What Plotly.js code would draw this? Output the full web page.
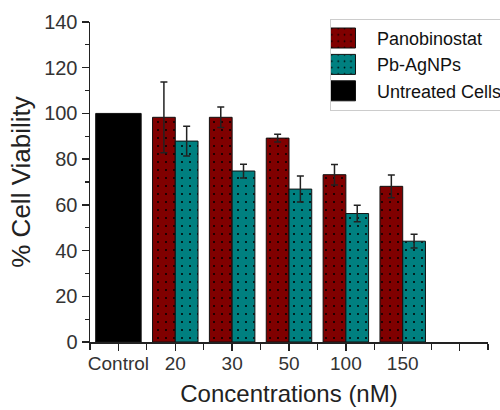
<!DOCTYPE html>
<html><head><meta charset="utf-8">
<script src="https://cdn.plot.ly/plotly-3.0.1.min.js"></script>
<style>html,body{margin:0;padding:0;background:#fff}#chart{width:500px;height:410px}</style>
</head><body><div id="chart"></div>
<script>
// Data
const categories = ['Control', '20', '30', '50', '100', '150', ''];
const controlCategories = ['Control'];
const controlValues = [100];
const treatedCategories = ['20', '30', '50', '100', '150'];
const panobinostat = [98.3, 98.3, 89.2, 73.2, 68.1];
const panobinostatErr = [15.5, 4.5, 1.7, 4.5, 5.0];
const pbAgNPs = [87.9, 74.8, 66.9, 56.2, 44.1];
const pbAgNPsErr = [6.5, 3.0, 5.7, 3.6, 3.0];

const pos = c => categories.indexOf(c);
const dotPattern = (bg) => ({shape: '.', fgcolor: '#000', bgcolor: bg, fillmode: 'replace', size: 8, solidity: 0.05});
const errStyle = (arr) => ({type: 'data', array: arr, visible: true, color: '#222', thickness: 1.5, width: 3.5});

const traces = [
  {type: 'bar', name: 'Panobinostat', x: treatedCategories.map(pos), y: panobinostat,
   offset: -0.4, width: 0.4, error_y: errStyle(panobinostatErr),
   marker: {color: '#800000', line: {color: '#111', width: 1}, pattern: dotPattern('#800000')}},
  {type: 'bar', name: 'Pb-AgNPs', x: treatedCategories.map(pos), y: pbAgNPs,
   offset: 0, width: 0.4, error_y: errStyle(pbAgNPsErr),
   marker: {color: '#008080', line: {color: '#111', width: 1}, pattern: dotPattern('#008080')}},
  {type: 'bar', name: 'Untreated Cells', x: controlCategories.map(pos), y: controlValues,
   offset: -0.4, width: 0.8,
   marker: {color: '#000', line: {color: '#111', width: 1}}}
];

const layout = {
  width: 500, height: 410,
  margin: {l: 90, r: 12, t: 22, b: 68, autoexpand: false},
  paper_bgcolor: '#fff', plot_bgcolor: '#fff',
  barmode: 'overlay',
  showlegend: true,
  font: {family: 'Liberation Sans, Arial, sans-serif', color: '#333'},
  legend: {x: 0.603, y: 1.01, xanchor: 'left', yanchor: 'top', bgcolor: '#fff',
           bordercolor: '#ccc', borderwidth: 1, font: {size: 18, color: '#111'},
           tracegroupgap: 0, itemwidth: 36},
  xaxis: {range: [-0.5, 6.5], tickmode: 'array', tickvals: categories.map((c, i) => i), ticktext: categories,
          showgrid: false, zeroline: false, showline: true, linecolor: '#222', linewidth: 1.5,
          ticks: 'outside', ticklen: 7, tickwidth: 1.5, tickcolor: '#222', ticklabelstandoff: -3,
          minor: {tickmode: 'array', tickvals: categories.map((c, i) => i + 0.5).concat([-0.5]), ticklen: 6, tickwidth: 1.2, tickcolor: '#222', showgrid: false},
          tickfont: {size: 19, color: '#333'},
          title: {text: 'Concentrations (nM)', font: {size: 24, color: '#222'}, standoff: 12}},
  yaxis: {range: [0, 140], tickmode: 'linear', tick0: 0, dtick: 20,
          showgrid: false, zeroline: false, showline: true, linecolor: '#222', linewidth: 1.5,
          ticks: 'outside', ticklen: 7, tickwidth: 1.5, tickcolor: '#222',
          minor: {dtick: 10, ticklen: 4, tickwidth: 1.2, tickcolor: '#222', showgrid: false},
          tickfont: {size: 20, color: '#333'},
          title: {text: '% Cell Viability', font: {size: 26, color: '#222'}, standoff: 6}}
};

Plotly.newPlot('chart', traces, layout, {displayModeBar: false, staticPlot: true}).then(gd => {
  // enlarge legend swatches to wide rectangles like the reference
  gd.querySelectorAll('.legend .legendpoints path').forEach(p => {
    p.setAttribute('d', 'M20.5,10H-20.5V-10H20.5Z');
    p.setAttribute('transform', 'translate(4,0)');
  });
});
</script></body></html>
